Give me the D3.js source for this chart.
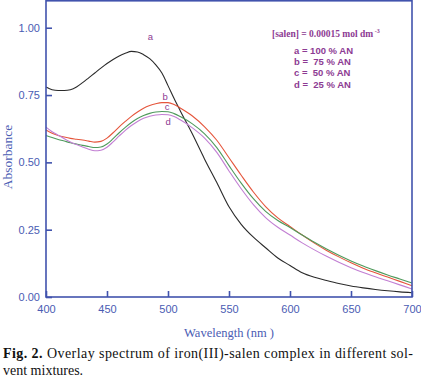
<!DOCTYPE html>
<html>
<head>
<meta charset="utf-8">
<script src="https://cdn.jsdelivr.net/npm/d3@7"></script>
<style>
  body { margin: 0; background: #fff; }
  svg { display: block; }
</style>
</head>
<body>
<div id="chart"></div>
<script>
// values
let wavelengths = [400,405,410,415,420,425,430,435,440,445,450,455,460,465,470,475,480,485,490,495,500,505,510,520,530,540,550,560,570,580,590,600,610,620,630,640,650,660,670,680,690,700];
let seriesA = [0.780,0.770,0.767,0.767,0.770,0.780,0.796,0.814,0.832,0.850,0.867,0.882,0.895,0.905,0.912,0.910,0.900,0.885,0.862,0.832,0.785,0.737,0.692,0.605,0.512,0.425,0.335,0.270,0.222,0.183,0.145,0.117,0.090,0.073,0.061,0.050,0.041,0.034,0.028,0.023,0.019,0.016];
let seriesB = [0.620,0.608,0.600,0.594,0.589,0.586,0.583,0.579,0.575,0.578,0.590,0.610,0.632,0.652,0.671,0.687,0.701,0.711,0.718,0.722,0.722,0.715,0.702,0.672,0.632,0.582,0.517,0.452,0.390,0.336,0.294,0.262,0.230,0.200,0.173,0.149,0.127,0.107,0.090,0.074,0.058,0.042];
let seriesC = [0.600,0.592,0.585,0.579,0.573,0.568,0.563,0.559,0.555,0.557,0.568,0.588,0.610,0.630,0.648,0.663,0.674,0.682,0.687,0.689,0.688,0.681,0.670,0.643,0.606,0.555,0.488,0.423,0.365,0.318,0.284,0.258,0.230,0.203,0.178,0.155,0.134,0.115,0.098,0.082,0.067,0.052];
let seriesD = [0.631,0.614,0.601,0.588,0.576,0.566,0.557,0.549,0.543,0.545,0.556,0.576,0.598,0.619,0.637,0.652,0.664,0.671,0.676,0.678,0.677,0.670,0.658,0.628,0.590,0.537,0.468,0.402,0.343,0.295,0.259,0.230,0.201,0.175,0.151,0.129,0.109,0.091,0.075,0.060,0.045,0.030];

let seriesKeys = ["a","b","c","d"];
let xTicks = [400,450,500,550,600,650,700];
let yTicks = [0.00,0.25,0.50,0.75,1.00];
let legendTitle = "[salen] = 0.00015 mol dm";
let legendLines = ["a = 100 % AN","b =  75 % AN","c =  50 % AN","d =  25 % AN"];
// where each curve letter sits, in data units
let labelWl = [485.5,497.7,499.3,500.1];
let labelAb = [0.967,0.745,0.705,0.652];

let svgWidth = 421;
let svgHeight = 384;
let plotLeft = 46, plotRight = 412, plotTop = 0.8, plotBottom = 297;
let axisBlue = "#4153ad";
let textBlue = "#4a5cb3";
let purple = "#8d3b93";
let colors = ["#2a2a2a","#e5553b","#4f9a5c","#c27fd3"];

let svg = d3.select("#chart")
  .append("svg")
    .attr("width", svgWidth)
    .attr("height", svgHeight);

let x = d3.scaleLinear().domain([400,700]).range([plotLeft, plotRight]);
let y = d3.scaleLinear().domain([0,1.1]).range([plotBottom, plotTop]);

let allSeries = [seriesA, seriesB, seriesC, seriesD];

let line = d3.line()
  .x((d,i) => x(wavelengths[i]))
  .y(d => y(d))
  .curve(d3.curveMonotoneX);

svg.append("g").selectAll("path").data(allSeries).enter()
  .append("path")
    .attr("d", line)
    .attr("fill", "none")
    .attr("stroke", (d,i) => colors[i])
    .attr("stroke-width", 1.1);

// frame
svg.append("rect")
  .attr("x", plotLeft).attr("y", plotTop)
  .attr("width", plotRight - plotLeft).attr("height", plotBottom - plotTop)
  .attr("fill", "none")
  .attr("stroke", axisBlue)
  .attr("stroke-width", 1.6);

// axes with inward ticks
let xAxis = svg.append("g")
  .attr("transform", "translate(0," + plotBottom + ")")
  .call(d3.axisBottom(x).tickValues(xTicks).tickSize(-6).tickPadding(12).tickFormat(d3.format("d")));
let yAxis = svg.append("g")
  .attr("transform", "translate(" + plotLeft + ",0)")
  .call(d3.axisLeft(y).tickValues(yTicks).tickSize(-6).tickPadding(6).tickFormat(d3.format(".2f")));

[xAxis, yAxis].forEach(g => {
  g.select(".domain").remove();
  g.selectAll(".tick line").attr("stroke", axisBlue).attr("stroke-width", 1.6);
  g.selectAll(".tick text")
    .attr("fill", textBlue)
    .style("font-family", "'Liberation Sans', Arial, sans-serif")
    .style("font-size", "11px");
});
xAxis.selectAll(".tick text").attr("dy", "0.35em").attr("y", 12);

// axis titles
svg.append("text")
  .attr("x", 229).attr("y", 337)
  .attr("text-anchor", "middle")
  .attr("fill", textBlue)
  .style("font-family", "'Liberation Serif', 'Times New Roman', serif")
  .style("font-size", "12.5px")
  .text("Wavelength (nm )");

svg.append("text")
  .attr("transform", "translate(12,157) rotate(-90)")
  .attr("text-anchor", "middle")
  .attr("fill", textBlue)
  .style("font-family", "'Liberation Serif', 'Times New Roman', serif")
  .style("font-size", "13.5px")
  .text("Absorbance");

// curve letters
svg.append("g").selectAll("text").data(seriesKeys).enter()
  .append("text")
    .attr("x", (d,i) => x(labelWl[i]))
    .attr("y", (d,i) => y(labelAb[i]))
    .attr("dy", "0.35em")
    .attr("text-anchor", "middle")
    .attr("fill", purple)
    .style("font-family", "'Liberation Sans', Arial, sans-serif")
    .style("font-size", "9.5px")
    .text(d => d);

// legend block
let legendTitleText = svg.append("text")
  .attr("x", 272).attr("y", 37)
  .attr("fill", purple)
  .style("font-family", "'Liberation Serif', 'Times New Roman', serif")
  .style("font-size", "9.5px")
  .style("font-weight", "bold")
  .text(legendTitle);
legendTitleText.append("tspan")
  .attr("dy", -4)
  .style("font-size", "6px")
  .text(" -3");

svg.append("g").selectAll("text").data(legendLines).enter()
  .append("text")
    .attr("x", 294)
    .attr("y", (d,i) => 54 + i * 11.2)
    .attr("fill", purple)
    .attr("xml:space", "preserve")
    .style("white-space", "pre")
    .style("font-family", "'Liberation Sans', Arial, sans-serif")
    .style("font-size", "9.5px")
    .style("font-weight", "bold")
    .text(d => d);

// caption
let caption = svg.append("g")
  .style("font-family", "'Liberation Serif', 'Times New Roman', serif")
  .style("font-size", "14px")
  .attr("fill", "#111");
let cap1 = caption.append("text")
  .attr("x", 3).attr("y", 358)
  .attr("textLength", 410)
  .attr("lengthAdjust", "spacing");
cap1.append("tspan").style("font-weight", "bold").text("Fig. 2.");
cap1.append("tspan").text(" Overlay spectrum of iron(III)-salen complex in different sol-");
caption.append("text")
  .attr("x", 3).attr("y", 375)
  .text("vent mixtures.");
</script>
</body>
</html>
